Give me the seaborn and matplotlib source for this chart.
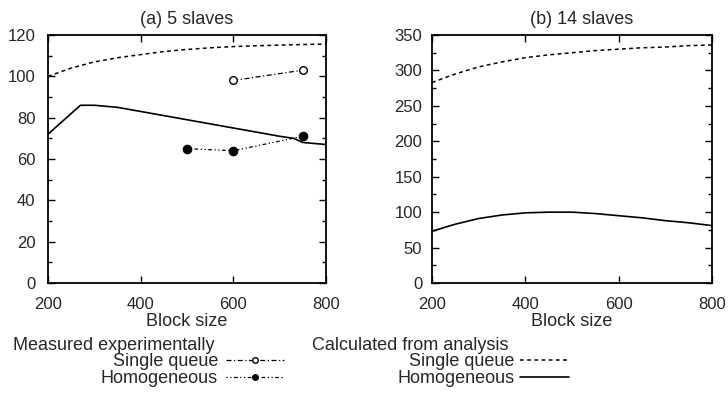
import matplotlib
matplotlib.use('Agg')
import matplotlib.pyplot as plt
import seaborn as sns
from matplotlib.lines import Line2D
from matplotlib.ticker import MultipleLocator

# 数据
# ========================================================
# (a) 5 slaves
a_sq_calc_x = [200, 250, 300, 350, 400, 450, 500, 550, 600, 650, 700, 750, 800]
a_sq_calc_y = [100, 104, 107, 109, 110.5, 112, 113, 113.8, 114.4, 114.8, 115.1, 115.4, 115.6]
a_hom_calc_x = [200, 270, 300, 350, 400, 450, 500, 550, 600, 650, 700, 730, 750, 800]
a_hom_calc_y = [72, 86, 86, 85, 83, 81, 79, 77, 75, 73, 71, 70, 68, 67]
a_sq_meas_x = [600, 750]
a_sq_meas_y = [98, 103]
a_hom_meas_x = [500, 600, 750]
a_hom_meas_y = [65, 64, 71]

# (b) 14 slaves
b_sq_calc_x = [200, 250, 300, 350, 400, 450, 500, 550, 600, 650, 700, 750, 800]
b_sq_calc_y = [283, 295, 305, 312, 318, 322, 325, 328, 330, 332, 333, 335, 336]
b_hom_calc_x = [200, 250, 300, 350, 400, 450, 500, 550, 600, 650, 700, 750, 800]
b_hom_calc_y = [73, 83, 91, 96, 99, 100, 100, 98, 95, 92, 88, 85, 81]

sns.set_style('ticks')
plt.rcParams['font.family'] = ['Liberation Sans', 'DejaVu Sans']
plt.rcParams['font.size'] = 12

W, H = 728, 393
fig = plt.figure(figsize=(W / 100, H / 100), dpi=100)
ax1 = fig.add_axes([48 / W, 1 - 283 / H, 278 / W, 248 / H])
ax2 = fig.add_axes([432 / W, 1 - 283 / H, 280 / W, 248 / H])

sq_calc_style = dict(color='black', linestyle=(0, (2.5, 2.2)), linewidth=1.1)
hom_calc_style = dict(color='black', linestyle='-', linewidth=1.2)
sq_meas_style = dict(color='black', linestyle=(0, (4, 2, 1, 2)), linewidth=0.9,
                     marker='o', markersize=5.5, markerfacecolor='white',
                     markeredgecolor='black', markeredgewidth=1.0)
hom_meas_style = dict(color='black', linestyle=(0, (1, 2, 1, 2, 3, 2)), linewidth=0.9,
                      marker='o', markersize=6.2, markerfacecolor='black',
                      markeredgecolor='black')

sns.lineplot(x=a_sq_calc_x, y=a_sq_calc_y, ax=ax1, **sq_calc_style)
sns.lineplot(x=a_hom_calc_x, y=a_hom_calc_y, ax=ax1, **hom_calc_style)
sns.lineplot(x=a_sq_meas_x, y=a_sq_meas_y, ax=ax1, **sq_meas_style)
sns.lineplot(x=a_hom_meas_x, y=a_hom_meas_y, ax=ax1, **hom_meas_style)

sns.lineplot(x=b_sq_calc_x, y=b_sq_calc_y, ax=ax2, **sq_calc_style)
sns.lineplot(x=b_hom_calc_x, y=b_hom_calc_y, ax=ax2, **hom_calc_style)

ax1.set_ylim(0, 120)
ax1.yaxis.set_major_locator(MultipleLocator(20))
ax1.yaxis.set_minor_locator(MultipleLocator(10))
ax2.set_ylim(0, 350)
ax2.yaxis.set_major_locator(MultipleLocator(50))
ax2.yaxis.set_minor_locator(MultipleLocator(25))

for ax, title, ypad, tx in [(ax1, '(a) 5 slaves', 9, 0.5), (ax2, '(b) 14 slaves', 7, 0.535)]:
    ax.set_xlim(200, 800)
    ax.xaxis.set_major_locator(MultipleLocator(200))
    ax.set_xlabel('Block size', fontsize=13, labelpad=1)
    ax.set_title(title, fontsize=13, pad=8, x=tx)
    ax.tick_params(direction='in', top=True, right=True, which='both',
                   labelsize=12, width=1, color='black')
    ax.tick_params(which='major', length=5)
    ax.tick_params(which='minor', length=3)
    ax.tick_params(axis='x', which='major', pad=10)
    ax.tick_params(axis='y', which='major', pad=ypad)
    for s in ax.spines.values():
        s.set_linewidth(1.3)
        s.set_color('black')

# 图例
fig.text(13 / W, 1 - 345 / H, 'Measured experimentally', fontsize=13, va='center')
fig.text(312 / W, 1 - 345 / H, 'Calculated from analysis', fontsize=13, va='center')

h_meas = [Line2D([], [], **sq_meas_style), Line2D([], [], **hom_meas_style)]
h_calc = [Line2D([], [], **sq_calc_style), Line2D([], [], **hom_calc_style)]
for h in h_meas:
    h.set_markersize(4)
leg_kw = dict(loc='upper right', frameon=False, markerfirst=False,
              labelspacing=0.0, borderpad=0, borderaxespad=0,
              prop=dict(size=13))
leg1 = fig.legend(h_meas, ['Single queue', 'Homogeneous'],
                  bbox_to_anchor=(284 / W, 1 - 353 / H),
                  handlelength=3.2, handletextpad=0.45, **leg_kw)
leg2 = fig.legend(h_calc, ['Single queue', 'Homogeneous'],
                  bbox_to_anchor=(569 / W, 1 - 353 / H),
                  handlelength=2.7, handletextpad=0.3, **leg_kw)

fig.savefig('out.png', dpi=100)
